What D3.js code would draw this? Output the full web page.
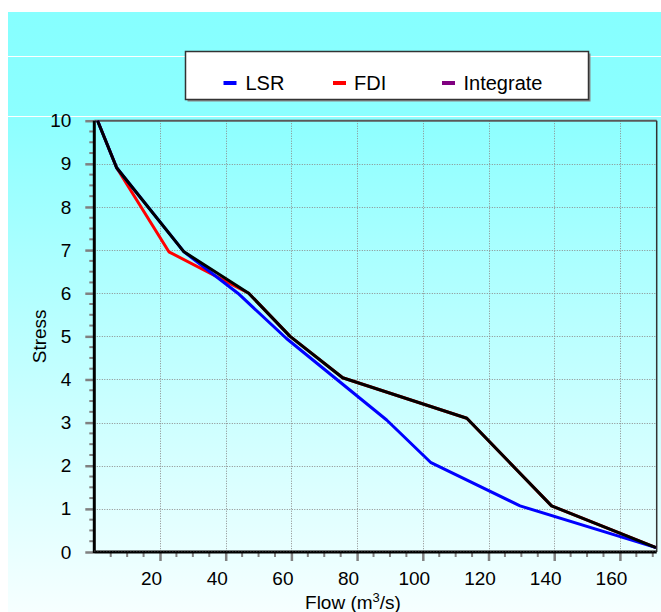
<!DOCTYPE html>
<html>
<head>
<meta charset="utf-8">
<script src="https://cdn.jsdelivr.net/npm/d3@7"></script>
<style>
  html, body { margin: 0; padding: 0; background: #ffffff; }
  svg { display: block; font-family: "Liberation Sans", Arial, Helvetica, sans-serif; }
</style>
</head>
<body>
<svg id="chart" width="661" height="612"></svg>
<script>
// Flow (m3/s) vs stress level for three methods
const lsrFlow    = [1, 6.8, 27.3, 43.7, 58.5, 89.0, 102.5, 129.6, 171];
const lsrStress  = [10, 8.91, 6.96, 6.0, 4.95, 3.06, 2.07, 1.07, 0.1];

const fdiFlow    = [1, 6.8, 22.7, 47, 59.6, 75.6, 113.4, 139.2, 171];
const fdiStress  = [10, 8.91, 6.96, 6.0, 5.0, 4.04, 3.10, 1.07, 0.1];

const intFlow    = [1, 6.8, 27.3, 47, 59.6, 75.6, 113.4, 139.2, 171];
const intStress  = [10, 8.91, 6.96, 6.0, 5.0, 4.04, 3.10, 1.07, 0.1];

const seriesNames  = ["LSR", "FDI", "Integrate"];
const seriesColors = ["#0000ff", "#ff0000", "#000000"];
const legendColors = ["#0000ff", "#ff0000", "#800080"];

const xTickValues = [20, 40, 60, 80, 100, 120, 140, 160];
const yTickValues = [0, 1, 2, 3, 4, 5, 6, 7, 8, 9, 10];

(function draw() {
  const svg = d3.select("#chart");

  // background panel with vertical gradient
  const defs = svg.append("defs");
  const grad = defs.append("linearGradient")
    .attr("id", "bg").attr("x1", 0).attr("y1", 0).attr("x2", 0).attr("y2", 1);
  grad.append("stop").attr("offset", 0).attr("stop-color", "#86ffff");
  grad.append("stop").attr("offset", 0.17).attr("stop-color", "#8cffff");
  grad.append("stop").attr("offset", 1).attr("stop-color", "#f6ffff");

  svg.append("rect").attr("x", 8).attr("y", 12).attr("width", 653).attr("height", 600)
    .attr("fill", "url(#bg)");
  [56.5, 116.5].forEach(yy => {
    svg.append("line").attr("x1", 8).attr("x2", 661).attr("y1", yy).attr("y2", yy)
      .attr("stroke", "#ffffff").attr("stroke-width", 1);
  });

  const pl = 94.3, pr = 656.7, pt = 120.7, pb = 552;
  const x = d3.scaleLinear().domain([0, 171.2]).range([pl, pr]);
  const y = d3.scaleLinear().domain([0, 10]).range([pb, pt]);

  // grid
  const grid = svg.append("g").attr("stroke", "#8c8c8c").attr("stroke-width", 1)
    .attr("stroke-dasharray", "1,1.5");
  xTickValues.forEach(v => {
    grid.append("line").attr("x1", Math.round(x(v)) + 0.5).attr("x2", Math.round(x(v)) + 0.5)
      .attr("y1", pt).attr("y2", pb);
  });
  yTickValues.filter(v => v > 0 && v < 10).forEach(v => {
    grid.append("line").attr("x1", pl).attr("x2", pr)
      .attr("y1", Math.round(y(v)) + 0.5).attr("y2", Math.round(y(v)) + 0.5);
  });

  // frame: top and right
  svg.append("line").attr("x1", pl).attr("x2", pr).attr("y1", pt).attr("y2", pt)
    .attr("stroke", "#5a5a5a").attr("stroke-width", 2);
  svg.append("line").attr("x1", pr).attr("x2", pr).attr("y1", pt).attr("y2", pb)
    .attr("stroke", "#333333").attr("stroke-width", 1.5);

  // y axis
  const yAxis = d3.axisLeft(y).tickValues(yTickValues).tickSize(9).tickPadding(14)
    .tickFormat(d3.format("d"));
  const gy = svg.append("g").attr("transform", `translate(${pl},0)`).call(yAxis);
  gy.select(".domain").remove();
  gy.selectAll(".tick line").attr("stroke", "#808080").attr("stroke-width", 2.5);
  gy.selectAll(".tick text").attr("font-size", 19).attr("fill", "#000")
    .attr("font-family", "Liberation Sans, Arial, sans-serif");
  const yMinor = d3.range(0, 10.001, 0.25).filter(v => Math.abs(v - Math.round(v)) > 0.01);
  svg.append("g").selectAll("line").data(yMinor).join("line")
    .attr("x1", pl - 5).attr("x2", pl).attr("y1", d => y(d)).attr("y2", d => y(d))
    .attr("stroke", "#808080").attr("stroke-width", 2);

  // x axis
  const xAxis = d3.axisBottom(x).tickValues(xTickValues).tickSize(9).tickPadding(11)
    .tickFormat(d3.format("d"));
  const gx = svg.append("g").attr("transform", `translate(0,${pb})`).call(xAxis);
  gx.select(".domain").remove();
  gx.selectAll(".tick line").attr("stroke", "#808080").attr("stroke-width", 2.5);
  gx.selectAll(".tick text").attr("font-size", 19).attr("fill", "#000").attr("dx", -9)
    .attr("font-family", "Liberation Sans, Arial, sans-serif");
  const xMinor = d3.range(5, 171, 5).filter(v => v % 20 !== 0);
  svg.append("g").selectAll("line").data(xMinor).join("line")
    .attr("x1", d => x(d)).attr("x2", d => x(d)).attr("y1", pb).attr("y2", pb + 5)
    .attr("stroke", "#808080").attr("stroke-width", 2);

  // axis lines
  svg.append("line").attr("x1", pl).attr("x2", pl).attr("y1", pt).attr("y2", pb + 1)
    .attr("stroke", "#000").attr("stroke-width", 3);
  svg.append("line").attr("x1", pl).attr("x2", pr).attr("y1", pb).attr("y2", pb)
    .attr("stroke", "#000").attr("stroke-width", 3);
  svg.append("line").attr("x1", pl).attr("x2", pr).attr("y1", pb - 1).attr("y2", pb - 1)
    .attr("stroke", "#777").attr("stroke-width", 1).attr("stroke-dasharray", "1,2");

  // series: FDI underneath, then LSR, Integrate on top
  const line = d3.line().x(d => x(d[0])).y(d => y(d[1]));
  const layers = [
    { pts: d3.zip(fdiFlow, fdiStress), color: seriesColors[1] },
    { pts: d3.zip(lsrFlow, lsrStress), color: seriesColors[0] },
    { pts: d3.zip(intFlow, intStress), color: seriesColors[2] }
  ];
  layers.forEach(s => {
    svg.append("path").datum(s.pts).attr("d", line)
      .attr("fill", "none").attr("stroke", s.color)
      .attr("stroke-width", 3).attr("stroke-linejoin", "round");
  });

  // axis titles
  svg.append("text").attr("transform", `translate(46,${(pt + pb) / 2}) rotate(-90)`)
    .attr("text-anchor", "middle").attr("font-size", 19).attr("fill", "#000").text("Stress");
  const xt = svg.append("text").attr("x", 353).attr("y", 609).attr("text-anchor", "middle")
    .attr("font-size", 19).attr("fill", "#000");
  xt.append("tspan").text("Flow (m");
  xt.append("tspan").attr("baseline-shift", "super").attr("font-size", 13).text("3");
  xt.append("tspan").text("/s)");

  // legend
  const lg = svg.append("g");
  lg.append("rect").attr("x", 187.5).attr("y", 53.5).attr("width", 403).attr("height", 48)
    .attr("fill", "#888");
  lg.append("rect").attr("x", 185.5).attr("y", 51.5).attr("width", 403).attr("height", 48)
    .attr("fill", "#fff").attr("stroke", "#333").attr("stroke-width", 1.5);
  const swX = [223.5, 333, 442];
  const txX = [245.5, 354, 463.5];
  seriesNames.forEach((n, i) => {
    lg.append("line").attr("x1", swX[i]).attr("x2", swX[i] + 13).attr("y1", 83).attr("y2", 83)
      .attr("stroke", legendColors[i]).attr("stroke-width", 4);
    lg.append("text").attr("x", txX[i]).attr("y", 90).attr("font-size", 20).attr("fill", "#000")
      .text(n);
  });
})();
</script>
</body>
</html>
